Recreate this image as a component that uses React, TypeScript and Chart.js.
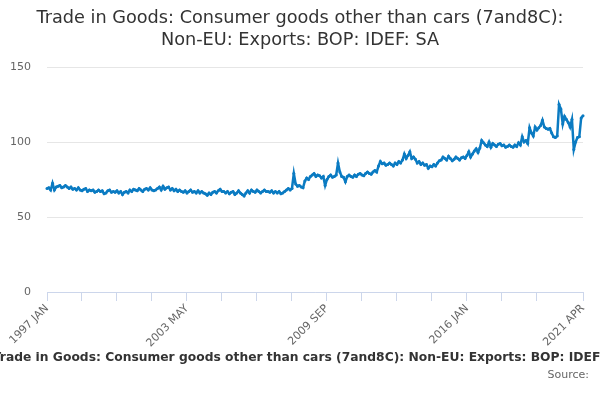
import React, { useEffect, useRef } from 'react';
import { Chart, registerables } from 'chart.js';

Chart.register(...registerables);

const TITLE_LINES = [
  'Trade in Goods: Consumer goods other than cars (7and8C):',
  'Non-EU: Exports: BOP: IDEF: SA',
];
const LEGEND_TEXT =
  'Trade in Goods: Consumer goods other than cars (7and8C): Non-EU: Exports: BOP: IDEF: SA';
const SOURCE_TEXT = 'Source:';

const MONTHS = ['JAN', 'FEB', 'MAR', 'APR', 'MAY', 'JUN', 'JUL', 'AUG', 'SEP', 'OCT', 'NOV', 'DEC'];
const START_YEAR = 1997;

// Monthly values, 1997 JAN .. 2021 APR
const values1997_2002 = [
  69, 69.5, 68, 72.5, 68, 70, 70.5, 71, 69.5, 70, 71, 70,
  69, 70, 68.5, 69, 68, 69.5, 68, 67.5, 68.5, 69, 67, 68,
  67.5, 68, 66.5, 67, 68, 67, 67.5, 65.5, 66, 67.5, 68, 66.5,
  67, 66.5, 67.5, 66, 67, 65, 66.5, 67, 66, 68, 67, 68.5,
  68, 67.5, 69, 68, 67, 68.5, 69, 68, 69.5, 68, 67.5, 68,
  69, 70, 68, 70.5, 68.5, 69.5, 70, 68, 69, 67.5, 68.5, 67,
];
const values2003_2008 = [
  68, 67, 66.5, 67.5, 66, 67, 68, 66.5, 67, 66, 67.5, 66,
  67, 66, 65.5, 64.5, 66, 65, 66.5, 67, 66, 67.5, 68.5, 67,
  67, 66, 67, 65.5, 66.5, 67, 65, 66, 67.5, 66, 65, 64,
  66, 67.5, 66, 68, 67, 66.5, 68, 67, 66, 67, 68, 67,
  67, 66.5, 67.5, 66, 67, 66, 67, 65.5, 66, 67, 68, 69,
  68, 69, 79, 72, 70.5, 71, 70, 69.5, 74, 76, 75, 77,
];
const values2009_2014 = [
  78, 79, 77, 78, 77.5, 76, 77, 71, 75, 77, 78, 76.5,
  77, 78, 86, 80, 77, 76.5, 73.5, 77, 78, 77, 76.5, 78,
  77, 78.5, 79, 78, 77.5, 79, 80, 79, 78.5, 80, 81, 80,
  84, 87, 85.5, 86, 84.5, 85, 86, 85, 84, 86, 85, 87,
  86, 88, 92, 89, 91, 93.5, 89, 90, 88.5, 86, 87, 85,
  86, 84.5, 85, 82.5, 84, 83.5, 85, 84, 86, 87.5, 88, 90,
];
const values2015_2021 = [
  89, 88, 90.5, 89, 87.5, 88.5, 90, 89, 88, 89.5, 90, 89,
  91, 93.5, 90, 92, 94, 95.5, 93, 96, 101, 99.5, 98, 97,
  100, 96.5, 99, 98, 97, 98.5, 99, 97.5, 98, 96.5, 97, 98,
  97, 96.5, 98, 97, 99.5, 98, 103.5, 100, 101, 99, 109.5, 106,
  104, 110, 108, 109.5, 111, 114.5, 110, 109, 108.5, 109, 106, 103.5,
  103, 104, 125, 122, 112, 117, 115, 113, 110, 115, 95, 100,
  103, 103.5, 116, 117.5,
];

const VALUES = [...values1997_2002, ...values2003_2008, ...values2009_2014, ...values2015_2021];

const LABELS = VALUES.map(
  (_, i) => `${START_YEAR + Math.floor(i / 12)} ${MONTHS[i % 12]}`
);

const TICK_INDICES = [0, 19, 38, 57, 76, 95, 114, 133, 152, 171, 190, 209, 228, 247, 266, 291];
const LABELED_INDICES = [0, 76, 152, 228, 291];
const Y_MIN = 0;
const Y_MAX = 150;
const Y_STEP = 50;

const FONT = 'DejaVu Sans';
const LINE_COLOR = '#0b7bc2';

const textPlugin = {
  id: 'textPlugin',
  afterDraw(chart: any) {
    const ctx = chart.ctx;
    ctx.save();
    ctx.fillStyle = '#333333';
    ctx.textAlign = 'center';
    ctx.textBaseline = 'middle';
    ctx.font = `17.7px "${FONT}"`;
    ctx.fillText(TITLE_LINES[0], 300, 18);
    ctx.fillText(TITLE_LINES[1], 300, 40);

    ctx.font = `bold 12.3px "${FONT}"`;
    ctx.fillStyle = '#333333';
    ctx.fillText(LEGEND_TEXT, 310, 358);

    ctx.font = `11px "${FONT}"`;
    ctx.fillStyle = '#666666';
    ctx.textAlign = 'right';
    ctx.fillText(SOURCE_TEXT, 589, 375);
    ctx.restore();
  },
};

export default function App() {
  const canvasRef = useRef<HTMLCanvasElement | null>(null);

  useEffect(() => {
    document.body.style.margin = '0';
    const canvas = canvasRef.current;
    if (!canvas) return;
    const chart = new Chart(canvas, {
      type: 'line',
      data: {
        labels: LABELS,
        datasets: [
          {
            label: LEGEND_TEXT,
            data: VALUES,
            borderColor: LINE_COLOR,
            backgroundColor: LINE_COLOR,
            borderWidth: 2.5,
            pointRadius: 1.5,
            pointBorderWidth: 0,
            pointBackgroundColor: LINE_COLOR,
            tension: 0,
            fill: false,
          },
        ],
      },
      options: {
        responsive: false,
        animation: false,
        devicePixelRatio: 1,
        layout: { padding: { top: 67, right: 17, left: 0, bottom: 0 } },
        plugins: {
          legend: { display: false },
          title: { display: false },
          tooltip: { enabled: false },
        },
        scales: {
          x: {
            type: 'category',
            offset: false,
            grid: {
              display: true,
              drawOnChartArea: false,
              drawTicks: true,
              tickLength: 9,
              color: '#ccd6eb',
              lineWidth: 1,
            },
            border: { display: true, color: '#ccd6eb', width: 1 },
            ticks: {
              autoSkip: false,
              maxRotation: 45,
              minRotation: 45,
              color: '#666666',
              padding: 1,
              font: { size: 11, family: FONT },
              callback: (v: any) => (LABELED_INDICES.includes(v) ? LABELS[v] : ''),
            },
            afterBuildTicks: (s: any) => {
              s.ticks = TICK_INDICES.map((v) => ({ value: v }));
            },
            afterFit: (s: any) => {
              s.height = 108;
            },
          },
          y: {
            min: Y_MIN,
            max: Y_MAX,
            ticks: {
              stepSize: Y_STEP,
              color: '#666666',
              padding: 16,
              font: { size: 11, family: FONT },
            },
            grid: { color: '#e6e6e6', drawTicks: false },
            border: { display: false },
            afterFit: (s: any) => {
              s.width = 47;
            },
          },
        },
      },
      plugins: [textPlugin],
    });
    return () => chart.destroy();
  }, []);

  return (
    <div style={{ position: 'fixed', left: 0, top: 0, width: 600, height: 400, background: '#fff' }}>
      <canvas ref={canvasRef} width={600} height={400} style={{ display: 'block' }} />
    </div>
  );
}
